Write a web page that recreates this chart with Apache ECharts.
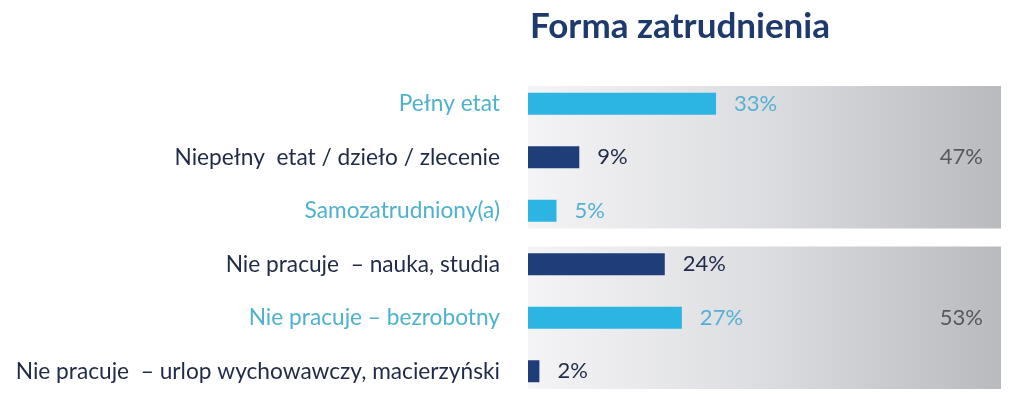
<!DOCTYPE html>
<html>
<head>
<meta charset="utf-8">
<script src="https://cdn.jsdelivr.net/npm/echarts@6/dist/echarts.min.js"></script>
<style>
html,body{margin:0;padding:0;background:#fff;}
#chart{width:1023px;height:413px;}
</style>
</head>
<body>
<div id="chart"></div>
<script>
const titleText = 'Forma zatrudnienia';
const categories = [
  'Pełny etat',
  'Niepełny  etat / dzieło / zlecenie',
  'Samozatrudniony(a)',
  'Nie pracuje  – nauka, studia',
  'Nie pracuje – bezrobotny',
  'Nie pracuje  – urlop wychowawczy, macierzyński'
];
const values = [33, 9, 5, 24, 27, 2];
const groupStart = [0, 3];
const groupEnd = [2, 5];
const groupTotals = [47, 53];

const LIGHT_BAR = '#2cb4e3';
const DARK_BAR = '#1f3e79';
const LIGHT_TEXT = '#4fb2cd';
const DARK_TEXT = '#1f2b47';
const XMAX = 83;
const FONT = 'Lato, "Open Sans", sans-serif';

const isLight = i => i % 2 === 0;

const barData = values.map((v, i) => ({
  value: v,
  itemStyle: { color: isLight(i) ? LIGHT_BAR : DARK_BAR },
  label: { color: isLight(i) ? '#56b0d3' : DARK_TEXT }
}));

const groupData = groupStart.map((s, i) => [s, groupEnd[i], groupTotals[i]]);

const chart = echarts.init(document.getElementById('chart'));
chart.setOption({
  animation: false,
  backgroundColor: '#ffffff',
  title: {
    text: titleText,
    left: 525,
    top: 4,
    textStyle: { fontFamily: FONT, fontSize: 35, fontWeight: 'bold', color: '#1e3a6c' }
  },
  grid: { left: 528, right: 22, top: 77, bottom: 15, containLabel: false },
  xAxis: {
    type: 'value', min: 0, max: XMAX,
    show: false
  },
  yAxis: {
    type: 'category',
    data: categories,
    inverse: true,
    axisLine: { show: false },
    axisTick: { show: false },
    splitLine: { show: false },
    axisLabel: {
      margin: 28,
      fontFamily: FONT,
      fontSize: 22.7,
      color: (val, idx) => isLight(idx) ? LIGHT_TEXT : DARK_TEXT
    }
  },
  series: [
    {
      type: 'custom',
      z: 1,
      silent: true,
      encode: { x: 2, y: [0, 1] },
      data: groupData,
      renderItem: function (params, api) {
        const s = api.coord([0, api.value(0)]);
        const e = api.coord([XMAX, api.value(1)]);
        const band = api.size([0, 1])[1];
        const pad = band * 0.33;
        const midY = (s[1] + e[1]) / 2;
        return {
          type: 'group',
          children: [
            {
              type: 'rect',
              shape: { x: s[0], y: s[1] - pad, width: e[0] - s[0], height: e[1] - s[1] + 2 * pad },
              style: {
                fill: new echarts.graphic.LinearGradient(0, 0, 1, 0, [
                  { offset: 0, color: '#f4f4f6' },
                  { offset: 0.5, color: '#dcdde0' },
                  { offset: 1, color: '#b9babe' }
                ])
              }
            },
            {
              type: 'text',
              style: {
                text: api.value(2) + '%',
                x: e[0] - 18,
                y: midY,
                align: 'right',
                verticalAlign: 'middle',
                fontFamily: FONT,
                fontSize: 22,
                fill: '#55585e'
              }
            }
          ]
        };
      }
    },
    {
      type: 'bar',
      z: 2,
      barWidth: 22,
      data: barData,
      label: {
        show: true,
        position: 'right',
        distance: 18,
        formatter: '{c}%',
        fontFamily: FONT,
        fontSize: 22
      }
    }
  ]
});
</script>
</body>
</html>
